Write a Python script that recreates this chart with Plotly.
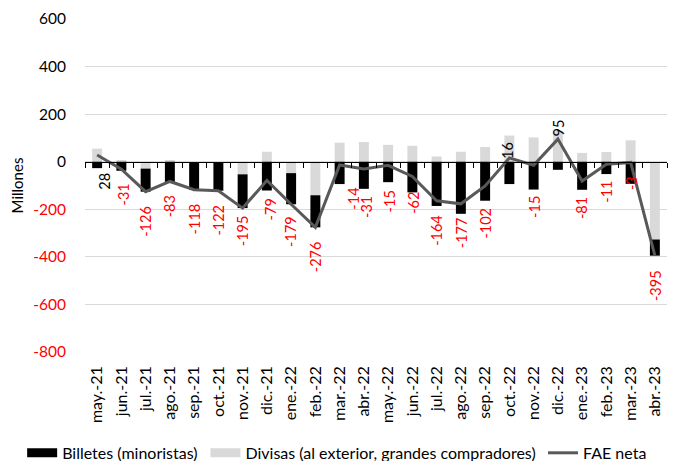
import plotly.graph_objects as go

months = ["may.-21", "jun.-21", "jul.-21", "ago.-21", "sep.-21", "oct.-21", "nov.-21", "dic.-21",
          "ene.-22", "feb.-22", "mar.-22", "abr.-22", "may.-22", "jun.-22", "jul.-22", "ago.-22",
          "sep.-22", "oct.-22", "nov.-22", "dic.-22", "ene.-23", "feb.-23", "mar.-23", "abr.-23"]
billetes = [-27, -38, -97, -88, -116, -120, -142, -121, -131, -135, -94, -114,
            -86, -129, -186, -219, -164, -94, -117, -34, -118, -52, -93, -68]
divisas = [55, 7, -29, 5, -2, -2, -53, 42, -48, -141, 80, 83,
           71, 67, 22, 42, 62, 110, 102, 129, 37, 41, 90, -327]
fae_neta = [28, -31, -126, -83, -118, -122, -195, -79, -179, -276, -14, -31,
            -15, -62, -164, -177, -102, 16, -15, 95, -81, -11, -3, -395]
y_ticks = [-800, -600, -400, -200, 0, 200, 400, 600]

# data-label placement (pixels): gap from the point, and which side
label_gap = [16, 12, 12, 12, 12, 12, 5, 16, 10, 12, 21, 25,
             23, 13, 12, 11, 20, -3, 29, 1, 14, 14, 12, 12]
label_above = [False] * 17 + [True, False, True] + [False] * 4
label_dx = [7, 2, 0, 0, 0, 0, 0, 4, 0, 0, 13, 2, 1, 1, 0, 0, 0, -2, 1, 1, 0, 0, 1, 0]

FONT = "Lato, Carlito, Calibri, sans-serif"
RED = "#ff0000"
GRAY = "#d9d9d9"
LINE = "#595959"
y_min, y_max = -800, 600

fig = go.Figure()
fig.add_trace(go.Bar(x=months, y=divisas, name="Divisas (al exterior, grandes compradores)",
                     marker=dict(color=GRAY, line=dict(width=0)), showlegend=False))
fig.add_trace(go.Bar(x=months, y=billetes, name="Billetes (minoristas)",
                     marker=dict(color="#000000", line=dict(width=0)), showlegend=False))
fig.add_trace(go.Scatter(x=months, y=fae_neta, name="FAE neta", mode="lines",
                         line=dict(color=LINE, width=3), legend="legend3"))
# legend swatches (wide rectangles like the original legend keys)
fig.add_trace(go.Scatter(x=[None], y=[None], name="Billetes (minoristas)", mode="lines",
                         line=dict(color="#000000", width=9), legend="legend"))
fig.add_trace(go.Scatter(x=[None], y=[None], name="Divisas (al exterior, grandes compradores)",
                         mode="lines", line=dict(color=GRAY, width=9), legend="legend2"))
# helper trace for the category axis drawn at zero
fig.add_trace(go.Scatter(x=months, y=fae_neta, xaxis="x2", mode="lines", opacity=0,
                         showlegend=False, hoverinfo="skip"))

for m, v, g, up, dx in zip(months, fae_neta, label_gap, label_above, label_dx):
    fig.add_annotation(x=m, y=v, text=str(v), showarrow=False, textangle=-90,
                       xanchor="center", yanchor="bottom" if up else "top",
                       yshift=g if up else -g, xshift=dx,
                       font=dict(family=FONT, size=14.5, color=RED if v < 0 else "#000000"))

tick_text = [f'<span style="color:{RED}">{t}</span>' if t < 0 else str(t) for t in y_ticks]

leg = dict(orientation="h", xref="paper", yref="paper", y=-0.303, xanchor="left",
           yanchor="middle", font=dict(size=16), itemwidth=30, bgcolor="rgba(0,0,0,0)")

# the page adds an 8px body margin, so the figure is sized to fit the window
fig.update_layout(
    width=669, height=453,
    margin=dict(l=77, r=10, t=11, b=109, autoexpand=False),
    paper_bgcolor="white", plot_bgcolor="white",
    barmode="relative", bargap=0.59,
    font=dict(family=FONT, size=15, color="#000000"),
    showlegend=True,
    legend=dict(leg, x=-0.108),
    legend2=dict(leg, x=0.207),
    legend3=dict(leg, x=0.787),
    xaxis=dict(type="category", tickangle=-90, showline=False, showgrid=False, ticks="",
               tickmode="linear", tick0=0, dtick=1, ticklabelstandoff=10,
               tickfont=dict(size=16), automargin=False),
    xaxis2=dict(type="category", overlaying="x", matches="x", anchor="free",
                position=(0 - y_min) / (y_max - y_min), side="bottom",
                showline=True, linecolor="#000000", linewidth=1,
                ticks="outside", ticklen=5, tickcolor="#000000", tickwidth=1,
                tickson="boundaries", tickmode="linear", tick0=0, dtick=1,
                showticklabels=False, showgrid=False, zeroline=False, automargin=False),
    yaxis=dict(range=[y_min, y_max], tickvals=y_ticks, ticktext=tick_text,
               showgrid=True, gridcolor=GRAY, gridwidth=1, zeroline=False,
               ticks="", ticklabelstandoff=18, tickfont=dict(size=15.5), automargin=False,
               title=dict(text="Millones", font=dict(size=15), standoff=6)),
)

fig.write_html("out.html")
